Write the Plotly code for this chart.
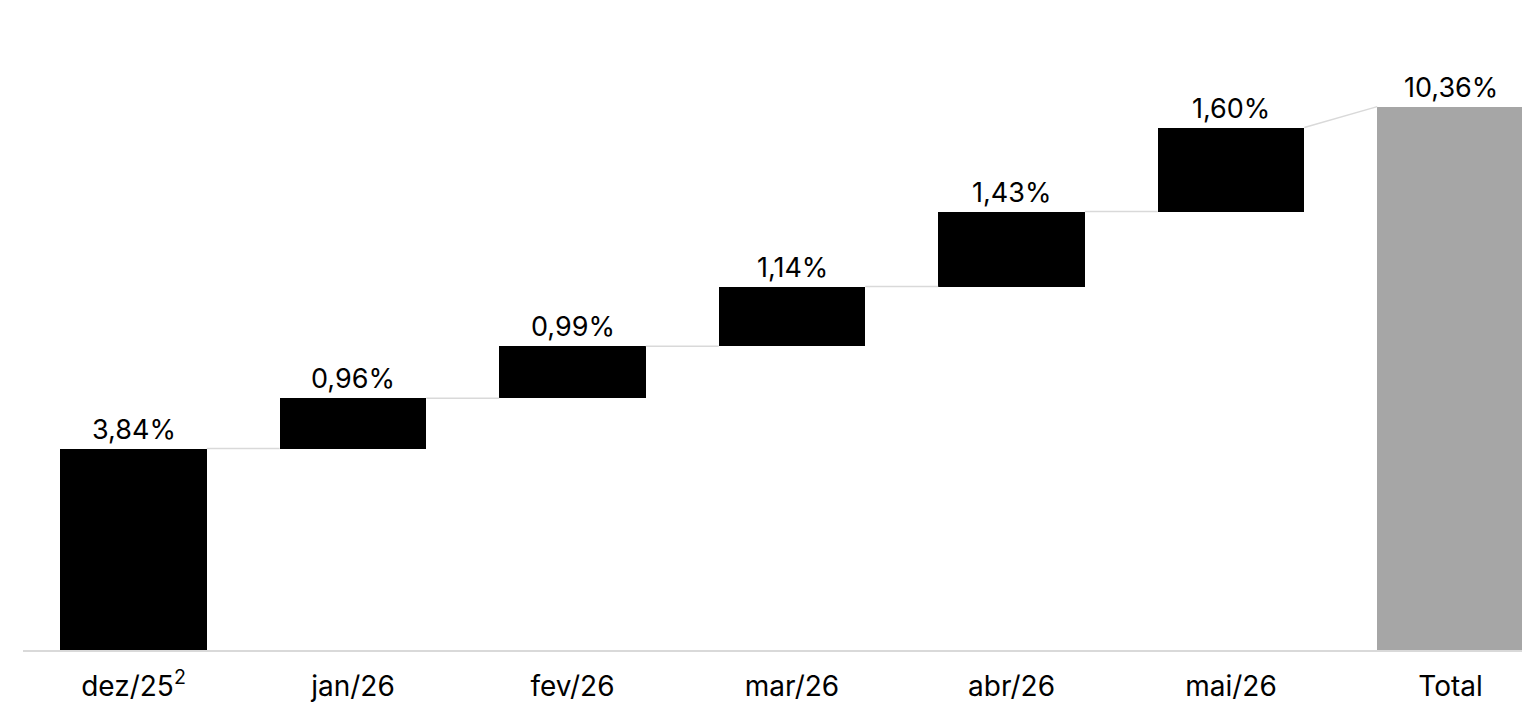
import plotly.graph_objects as go

categories = ["dez/25<sup>2</sup>", "jan/26", "fev/26", "mar/26", "abr/26", "mai/26", "Total"]
values = [3.84, 0.96, 0.99, 1.14, 1.43, 1.60, 10.36]
measures = ["relative", "relative", "relative", "relative", "relative", "relative", "total"]
labels = ["3,84%", "0,96%", "0,99%", "1,14%", "1,43%", "1,60%", "10,36%"]

BAR_W = 0.668
x = list(range(len(categories)))

bases, tops = [], []
run = 0.0
for v, m in zip(values, measures):
    if m == "total":
        bases.append(0.0)
        tops.append(v)
    else:
        bases.append(run)
        run += v
        tops.append(run)

colors = ["#000000" if m == "relative" else "#a6a6a6" for m in measures]

cx, cy = [], []
for i in range(len(x) - 1):
    end_level = tops[i]
    next_start = bases[i + 1] if measures[i + 1] == "relative" else tops[i + 1]
    cx += [x[i] + BAR_W / 2, x[i + 1] - BAR_W / 2, None]
    cy += [end_level, next_start, None]

fig = go.Figure()
fig.add_trace(go.Scatter(x=cx, y=cy, mode="lines",
                         line=dict(color="#d9d9d9", width=1.5),
                         hoverinfo="skip", showlegend=False))
fig.add_trace(go.Bar(x=x, y=values, base=bases, width=BAR_W,
                     marker=dict(color=colors, line=dict(width=0)),
                     showlegend=False, hoverinfo="skip"))

for xi, ti, lab in zip(x, tops, labels):
    fig.add_annotation(x=xi, y=ti, text=lab, showarrow=False,
                       xanchor="center", yanchor="bottom", yshift=1,
                       font=dict(size=27, color="#000000"))

fig.update_layout(
    width=1522, height=695,
    margin=dict(l=15, r=0, t=0, b=51),
    plot_bgcolor="white", paper_bgcolor="white",
    font=dict(family="Inter, Noto Sans, sans-serif", size=27, color="#000000"),
    xaxis=dict(range=[-0.5034, 6.362], tickmode="array", tickvals=x, ticktext=categories,
               showgrid=False, zeroline=False, showline=True, linecolor="#d9d9d9",
               linewidth=2, ticks="", tickfont=dict(size=28), ticklabelstandoff=10),
    yaxis=dict(range=[0, 12.24], visible=False, showgrid=False, zeroline=False),
    bargap=0,
)

fig.write_html("out.html")
